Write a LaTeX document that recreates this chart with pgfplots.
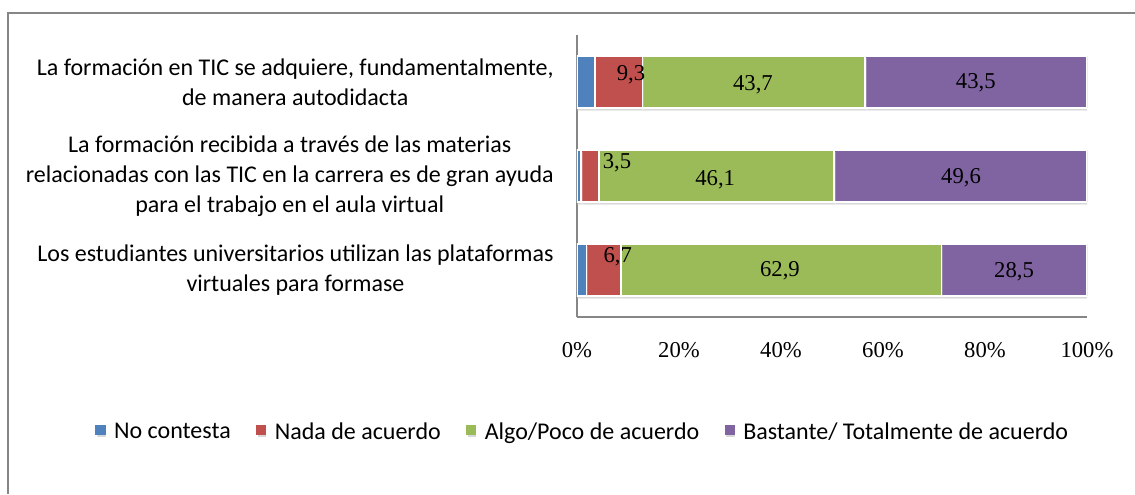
\documentclass[border=0pt]{standalone}
\usepackage{fontspec}
\setmainfont{Carlito}
\newfontfamily\tnr{Liberation Serif}
\usepackage{pgfplots}
\usetikzlibrary{shadows}
\pgfplotsset{compat=1.18}
\definecolor{cBlue}{RGB}{79,129,189}
\definecolor{cRed}{RGB}{192,80,77}
\definecolor{cGreen}{RGB}{155,187,89}
\definecolor{cPurple}{RGB}{128,100,162}
\definecolor{axgray}{RGB}{134,134,134}
\tikzset{dlab/.style={font=\tnr\fontsize{17}{20}\selectfont, inner sep=0pt},
  bshadow/.style={drop shadow={opacity=0.22, shadow xshift=0.6pt, shadow yshift=-2pt, fill=black!70}}}
\begin{document}
\begin{tikzpicture}
\useasboundingbox (0pt,0pt) rectangle (851.25pt,370.5pt);
\draw[axgray, line width=1.2pt] (6pt,0pt) -- (6pt,360.75pt) -- (851.25pt,360.75pt);
\begin{axis}[
  at={(432.75pt,132.75pt)}, anchor=south west,
  scale only axis, width=382.5pt, height=211.5pt,
  xbar stacked, bar width=0.553,
  xmin=0, xmax=100, ymin=-0.5, ymax=2.5,
  axis x line=bottom, axis y line=left,
  axis line style={-, draw=axgray, line width=1.2pt},
  major tick length=0pt,
  xtick={0,20,40,60,80,100},
  xticklabels={0\%,20\%,40\%,60\%,80\%,100\%},
  xticklabel style={font=\tnr\fontsize{17}{20}\selectfont, yshift=-15.5pt},
  ytick={0,1,2},
  yticklabels={{Los estudiantes universitarios utilizan las plataformas\\virtuales para formase},
               {La formación recibida a través de las materias\\relacionadas con las TIC en la carrera es de gran ayuda\\para el trabajo en el aula virtual},
               {La formación en TIC se adquiere, fundamentalmente,\\de manera autodidacta}},
  yticklabel style={font=\fontsize{18}{22.5}\selectfont, align=center, xshift=-14pt},
  legend style={at={(0.012,-0.408)}, anchor=center, draw=none, fill=none,
    legend columns=4, font=\fontsize{18}{22}\selectfont,
    /tikz/every even column/.append style={column sep=17pt}},
]
\addplot[fill=cBlue, draw=white, line width=1pt, bshadow,
  legend image code/.code={\fill[cBlue] (0pt,-2pt) rectangle (6.6pt,4.6pt); \path (11pt,0pt);}]
  coordinates {(1.9,0) (0.8,1) (3.5,2)};
\addplot[fill=cRed, draw=white, line width=1pt, bshadow,
  legend image code/.code={\fill[cRed] (0pt,-2pt) rectangle (6.6pt,4.6pt); \path (11pt,0pt);}]
  coordinates {(6.7,0) (3.5,1) (9.3,2)};
\addplot[fill=cGreen, draw=white, line width=1pt, bshadow,
  legend image code/.code={\fill[cGreen] (0pt,-2pt) rectangle (6.6pt,4.6pt); \path (11pt,0pt);}]
  coordinates {(62.9,0) (46.1,1) (43.7,2)};
\addplot[fill=cPurple, draw=white, line width=1pt, bshadow,
  legend image code/.code={\fill[cPurple] (0pt,-2pt) rectangle (6.6pt,4.6pt); \path (11pt,0pt);}]
  coordinates {(28.5,0) (49.6,1) (43.5,2)};
\legend{No contesta, Nada de acuerdo, Algo/Poco de acuerdo, Bastante/ Totalmente de acuerdo}
\coordinate (l1) at (axis cs:10.6,2.074);
\coordinate (l2) at (axis cs:34.5,1.97);
\coordinate (l3) at (axis cs:78.2,1.99);
\coordinate (l4) at (axis cs:7.84,1.138);
\coordinate (l5) at (axis cs:27.1,0.957);
\coordinate (l6) at (axis cs:75.3,0.98);
\coordinate (l7) at (axis cs:8.0,0.138);
\coordinate (l8) at (axis cs:39.8,-0.01);
\coordinate (l9) at (axis cs:85.7,-0.02);
\end{axis}
\node[dlab] at (l1) {9,3};
\node[dlab] at (l2) {43,7};
\node[dlab] at (l3) {43,5};
\node[dlab] at (l4) {3,5};
\node[dlab] at (l5) {46,1};
\node[dlab] at (l6) {49,6};
\node[dlab] at (l7) {6,7};
\node[dlab] at (l8) {62,9};
\node[dlab] at (l9) {28,5};
\end{tikzpicture}
\end{document}
